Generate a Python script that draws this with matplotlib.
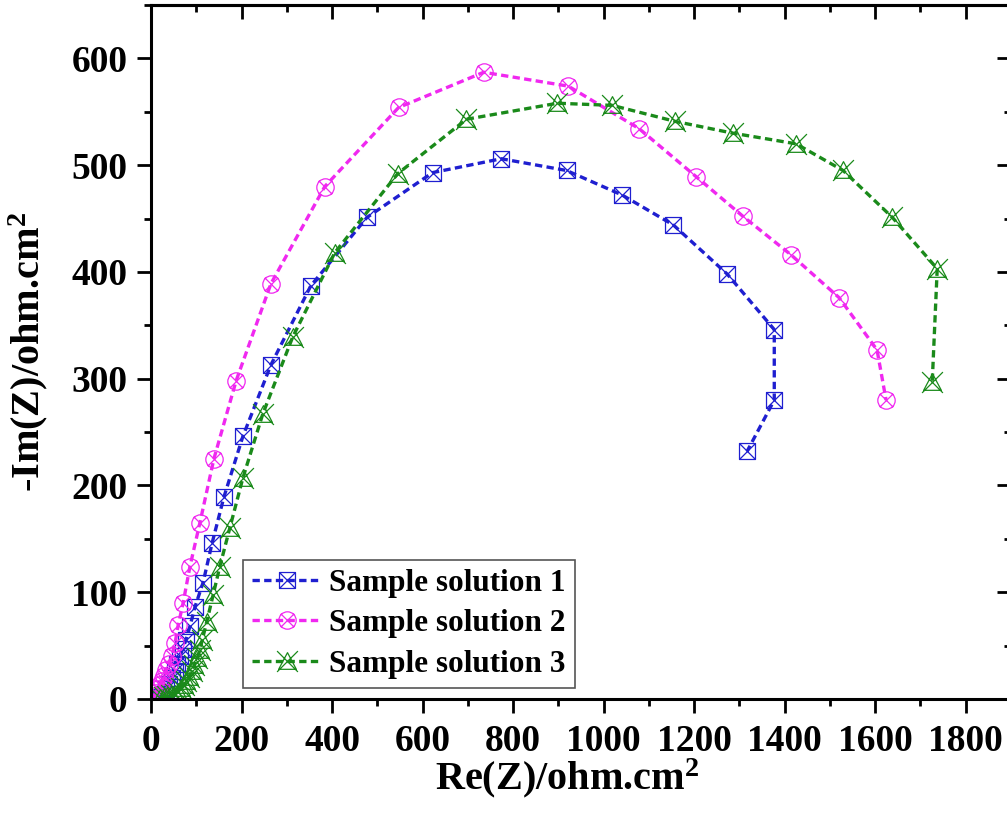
import numpy as np
import matplotlib
matplotlib.use("Agg")
import matplotlib.pyplot as plt
from matplotlib.path import Path
from matplotlib.ticker import MultipleLocator

# ---- data ----
labels = ["Sample solution 1", "Sample solution 2", "Sample solution 3"]

x1 = [22, 28, 34, 40, 46, 52, 58, 64, 70, 77, 86, 97, 115, 135, 161, 203, 265, 353,
      477, 622, 774, 918, 1041, 1154, 1273, 1377, 1377, 1317]
y1 = [2, 5, 9, 14, 20, 26, 33, 40, 47, 55, 68, 86, 109, 146, 189, 246, 313, 387,
      451, 493, 506, 495, 472, 444, 398, 346, 280, 232]

x2 = [8, 12, 16, 20, 24, 29, 34, 40, 46, 53, 60, 71, 86, 108, 139, 188, 265, 384,
      547, 735, 922, 1079, 1205, 1308, 1414, 1520, 1604, 1624]
y2 = [3, 6, 9, 13, 17, 22, 27, 33, 40, 52, 69, 90, 124, 165, 225, 298, 389, 480,
      554, 587, 574, 534, 489, 452, 416, 376, 327, 280]

x3 = [20, 28, 36, 44, 52, 60, 66, 72, 78, 84, 90, 96, 102, 108, 113, 123, 137, 152,
      174, 203, 247, 313, 406, 545, 697, 898, 1019, 1158, 1285, 1425, 1529, 1638,
      1737, 1726]
y3 = [1, 2, 3, 4, 5, 7, 10, 13, 17, 21, 26, 32, 38, 46, 55, 72, 97, 124,
      160, 207, 267, 339, 418, 492, 543, 558, 556, 541, 530, 520, 495, 451,
      403, 297]

colors = ["#1f1fd0", "#f028f0", "#1a8a1a"]

# ---- composite markers ----
def box_x():
    sq = Path([(-1, -1), (1, -1), (1, 1), (-1, 1), (-1, -1)],
              [Path.MOVETO, Path.LINETO, Path.LINETO, Path.LINETO, Path.CLOSEPOLY])
    d1 = Path([(-1, -1), (1, 1)], [Path.MOVETO, Path.LINETO])
    d2 = Path([(-1, 1), (1, -1)], [Path.MOVETO, Path.LINETO])
    return Path.make_compound_path(sq, d1, d2)

def circle_x():
    c = Path.unit_circle()
    a = 0.78
    d1 = Path([(-a, -a), (a, a)], [Path.MOVETO, Path.LINETO])
    d2 = Path([(-a, a), (a, -a)], [Path.MOVETO, Path.LINETO])
    return Path.make_compound_path(c, d1, d2)

def tri_x():
    t = Path([(0, 0.85), (-0.85, -0.75), (0.85, -0.75), (0, 0.85)],
             [Path.MOVETO, Path.LINETO, Path.LINETO, Path.CLOSEPOLY])
    d1 = Path([(-1, -1), (1, 1)], [Path.MOVETO, Path.LINETO])
    d2 = Path([(-1, 1), (1, -1)], [Path.MOVETO, Path.LINETO])
    return Path.make_compound_path(t, d1, d2)

markers = [box_x(), circle_x(), tri_x()]
msizes = [11.5, 12.5, 15]

plt.rcParams["font.family"] = ["Liberation Serif", "DejaVu Serif"]
plt.rcParams["font.weight"] = "bold"
plt.rcParams["mathtext.fontset"] = "custom"
plt.rcParams["mathtext.rm"] = "Liberation Serif:bold"
plt.rcParams["mathtext.bf"] = "Liberation Serif:bold"
plt.rcParams["mathtext.it"] = "Liberation Serif:bold"

fig = plt.figure(figsize=(10.07, 8.14), dpi=100)
W, H = 1007, 814
left, right, bottom, top = 151, 1011, 699, 5
ax = fig.add_axes([left / W, (H - bottom) / H, (right - left) / W, (bottom - top) / H])

for xs, ys, c, m, ms, lab in zip([x1, x2, x3], [y1, y2, y3], colors, markers, msizes, labels):
    ax.plot(xs, ys, linestyle=(0, (2.2, 1.3)), linewidth=2.4, color=c,
            marker=m, markersize=ms, markerfacecolor="none",
            markeredgecolor=c, markeredgewidth=0.9, label=lab)

ax.set_xlim(0, 1900)
ax.set_ylim(0, 650)
ax.xaxis.set_major_locator(MultipleLocator(200))
ax.xaxis.set_minor_locator(MultipleLocator(100))
ax.yaxis.set_major_locator(MultipleLocator(100))
ax.yaxis.set_minor_locator(MultipleLocator(50))

for s in ax.spines.values():
    s.set_linewidth(2.2)

ax.tick_params(axis="both", which="major", length=10, width=2, labelsize=27)
ax.tick_params(axis="both", which="minor", length=5, width=2)
ax.tick_params(axis="x", which="both", direction="out", top=False, pad=8)
ax.tick_params(axis="y", which="both", direction="out", right=False, pad=7)

# inward ticks on top and right
axt = ax.secondary_xaxis("top")
axt.xaxis.set_major_locator(MultipleLocator(200))
axt.xaxis.set_minor_locator(MultipleLocator(100))
axt.tick_params(which="major", direction="in", length=10, width=2, labeltop=False)
axt.tick_params(which="minor", direction="in", length=5, width=2)
axt.spines["top"].set_linewidth(2.2)
axr = ax.secondary_yaxis("right")
axr.yaxis.set_major_locator(MultipleLocator(100))
axr.yaxis.set_minor_locator(MultipleLocator(50))
axr.tick_params(which="major", direction="in", length=10, width=2, labelright=False)
axr.tick_params(which="minor", direction="in", length=5, width=2)

ax.set_xlabel("Re(Z)/ohm.cm$^{2}$", fontsize=29, fontweight="bold")
ax.set_ylabel("-Im(Z)/ohm.cm$^{2}$", fontsize=29, fontweight="bold")
ax.xaxis.set_label_coords(0.484, -0.082)
ax.yaxis.set_label_coords(-0.117, 0.5)

leg = ax.legend(loc="lower left", bbox_to_anchor=(0.107, 0.016), borderaxespad=0,
                fontsize=22.5, frameon=True, fancybox=False, framealpha=1,
                edgecolor="#555555", handlelength=2.2, handletextpad=0.25,
                borderpad=0.3, labelspacing=0.36)
leg.get_frame().set_linewidth(1.2)

fig.savefig("out.png", dpi=100)
